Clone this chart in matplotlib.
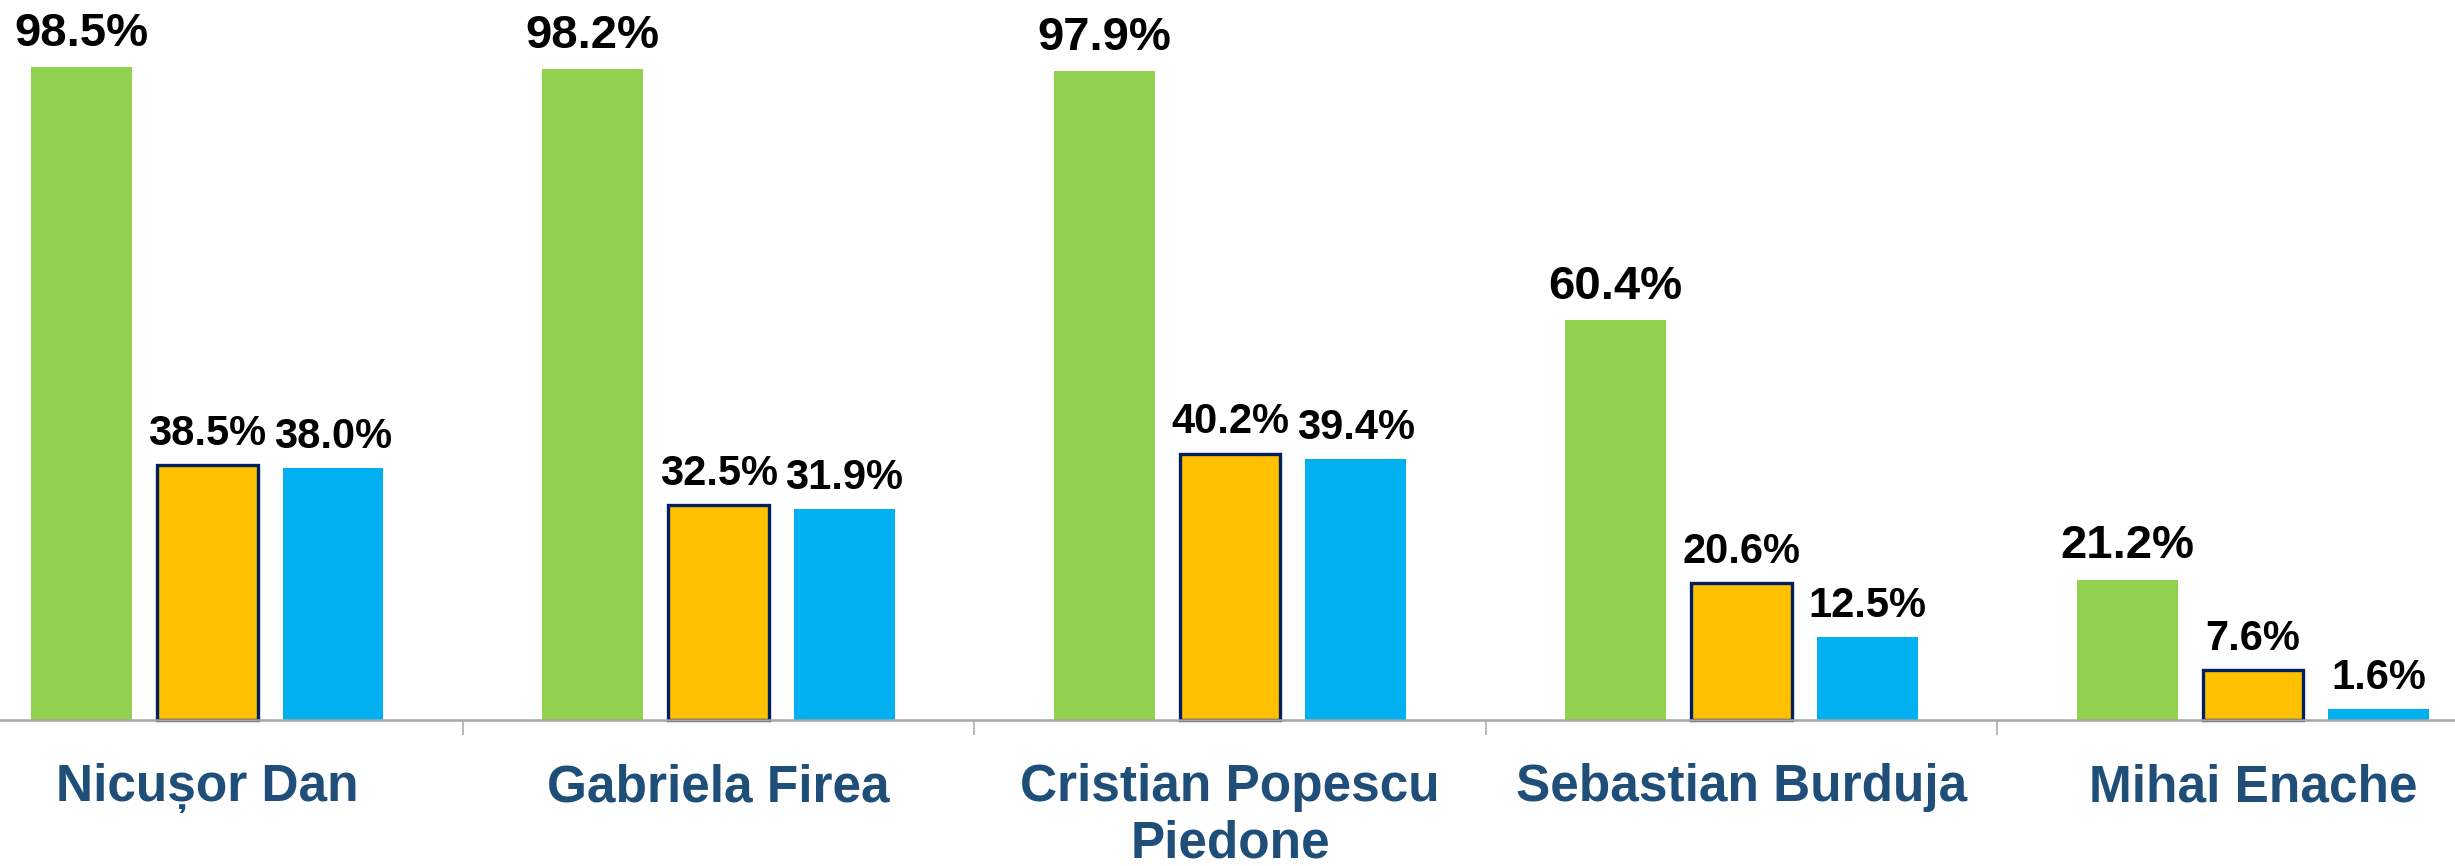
import matplotlib.pyplot as plt
import numpy as np

# Data
candidates = ['Nicușor Dan', 'Gabriela Firea', 'Cristian Popescu\nPiedone', 'Sebastian Burduja', 'Mihai Enache']
green_vals = [98.5, 98.2, 97.9, 60.4, 21.2]
yellow_vals = [38.5, 32.5, 40.2, 20.6, 7.6]
blue_vals = [38.0, 31.9, 39.4, 12.5, 1.6]

plt.rcParams['font.family'] = ['Liberation Sans', 'DejaVu Sans']

fig = plt.figure(figsize=(24.55, 8.66), dpi=100)
ax = fig.add_axes([0, 0, 1, 1])

x = np.arange(len(candidates))
w = 0.197
off = 0.246

b1 = ax.bar(x - off, green_vals, w, color='#92D050')
b2 = ax.bar(x, yellow_vals, w, color='#FFC000', edgecolor='#002060', linewidth=2.4)
b3 = ax.bar(x + off, blue_vals, w, color='#00B0F0')

# Value labels
for bars, vals, fs in [(b1, green_vals, 34), (b2, yellow_vals, 30), (b3, blue_vals, 30)]:
    for rect, v in zip(bars, vals):
        ax.annotate(f'{v:.1f}%', (rect.get_x() + rect.get_width() / 2, v),
                    xytext=(0, 8), textcoords='offset points',
                    ha='center', va='bottom', fontsize=fs, fontweight='bold', color='black')

ax.set_xlim(-0.405, 4.395)
ax.set_ylim(-22.03, 108.65)

# Axis line at zero, separators between categories
for s in ['top', 'left', 'right']:
    ax.spines[s].set_visible(False)
ax.spines['bottom'].set_position(('data', 0))
ax.spines['bottom'].set_color('#a6a6a6')
ax.spines['bottom'].set_linewidth(1.8)
ax.set_yticks([])

ax.set_xticks(x)
ax.set_xticklabels(candidates, fontsize=37, fontweight='bold', color='#1f4e79', linespacing=1.2)
ax.tick_params(axis='x', which='major', length=0, pad=31)
ax.set_xticks(x[:-1] + 0.5, minor=True)
ax.tick_params(axis='x', which='minor', length=11, width=1.1, color='#a6a6a6', direction='out')

plt.savefig('out.png', dpi=100)
